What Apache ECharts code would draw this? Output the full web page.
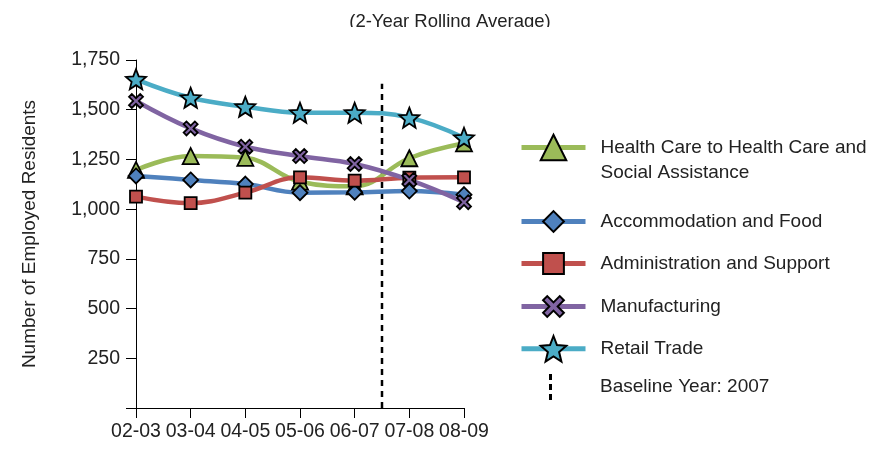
<!DOCTYPE html>
<html>
<head>
<meta charset="utf-8">
<script src="https://cdn.jsdelivr.net/npm/echarts@6/dist/echarts.min.js"></script>
<style>
html,body{margin:0;padding:0;background:#fff;}
#chart{width:888px;height:449px;}
</style>
</head>
<body>
<div id="chart"></div>
<script>
const categories = ['02-03','03-04','04-05','05-06','06-07','07-08','08-09'];
const healthCare = [1197, 1267, 1258, 1138, 1115, 1256, 1331];
const accommodation = [1167, 1147, 1126, 1083, 1085, 1091, 1073];
const administration = [1063, 1030, 1083, 1160, 1143, 1158, 1160];
const manufacturing = [1544, 1406, 1314, 1267, 1227, 1147, 1035];
const retail = [1653, 1560, 1515, 1485, 1485, 1460, 1359];
const baselineX = [4.5, 4.5];
const baselineY = [0, 1630];
const yTicks = [0, 250, 500, 750, 1000, 1250, 1500, 1750];

const FONT = 'Liberation Sans, Arial, sans-serif';
const FS = 19.5;
const LFS = 19;
const STAR = 'path://M50,0 L62.9,32.2 L97.6,34.5 L70.9,56.8 L79.4,90.5 L50,72 L20.6,90.5 L29.1,56.8 L2.4,34.5 L37.1,32.2 Z';
const CROSS = 'path://M0,20 L20,0 L50,30 L80,0 L100,20 L70,50 L100,80 L80,100 L50,70 L20,100 L0,80 L30,50 Z';
const DASHV = 'path://M0,0 L3,0 L3,6 L0,6 Z M0,10 L3,10 L3,16 L0,16 Z M0,20 L3,20 L3,26 L0,26 Z';

function lineSeries(name, data, color, symbol, size) {
  return {
    name: name, type: 'line', data: data, smooth: 0.4,
    symbol: symbol, symbolSize: size,
    lineStyle: { color: color, width: 4.5 },
    itemStyle: { color: color, borderColor: '#000', borderWidth: 1.8 },
    emphasis: { disabled: true }, animation: false
  };
}
const names = ['Health Care to Health Care and Social Assistance', 'Accommodation and Food', 'Administration and Support', 'Manufacturing', 'Retail Trade', 'Baseline Year: 2007'];

function legendFor(name, top, itemH, extra) {
  return Object.assign({
    data: [name], left: 519, top: top, padding: 0,
    itemWidth: 64, itemHeight: itemH, selectedMode: false,
    lineStyle: { width: 5 },
    itemStyle: { borderWidth: 2 },
    textStyle: { fontFamily: FONT, fontSize: LFS, color: '#222', padding: [0, 0, 0, 10], lineHeight: 25 }
  }, extra || {});
}

const option = {
  animation: false,
  title: {
    text: '(2-Year Rolling Average)', left: 445, textAlign: 'center', top: 7,
    textStyle: { fontFamily: FONT, fontWeight: 'normal', fontSize: 18.5, color: '#222' }
  },
  graphic: [{ type: 'rect', shape: { x: 300, y: 27, width: 300, height: 12 }, style: { fill: '#fff' }, z: 100 }],
  grid: { left: 136, right: 424, top: 60, bottom: 41, containLabel: false },
  xAxis: [{
    type: 'category', data: categories, boundaryGap: false,
    axisLine: { show: true, lineStyle: { color: '#000', width: 1 } },
    axisTick: { show: true, length: 10, interval: 0, lineStyle: { color: '#000' } },
    axisLabel: { interval: 0, margin: 14, fontFamily: FONT, fontSize: FS, color: '#222' },
    splitLine: { show: false }
  }, {
    type: 'value', min: 0, max: 6, show: false
  }],
  yAxis: {
    type: 'value', min: 0, max: 1750, interval: 250,
    name: 'Number of Employed Residents', nameLocation: 'middle', nameRotate: 90, nameGap: 97,
    nameTextStyle: { fontFamily: FONT, fontSize: 19, color: '#222' },
    axisLine: { show: true, lineStyle: { color: '#000', width: 1 } },
    axisTick: { show: true, length: 10, lineStyle: { color: '#000' } },
    axisLabel: {
      margin: 16, fontFamily: FONT, fontSize: FS, color: '#222',
      formatter: function (v) { return v === yTicks[0] ? '' : v.toLocaleString('en-US'); }
    },
    splitLine: { show: false }
  },
  legend: [
    legendFor(names[0], 110, 32, {
      formatter: function () { return '\nHealth Care to Health Care and\nSocial Assistance'; }
    }),
    legendFor(names[1], 209, 26),
    legendFor(names[2], 251, 26),
    legendFor(names[3], 294, 26),
    legendFor(names[4], 335, 32),
    {
      data: [{ name: names[5], icon: DASHV }], left: 549, top: 374, padding: 0,
      itemWidth: 3, itemHeight: 26, selectedMode: false,
      textStyle: { fontFamily: FONT, fontSize: LFS, color: '#222', padding: [0, 0, 0, 43] }
    }
  ],
  series: [
    lineSeries(names[0], healthCare, '#9BBB59', 'triangle', 16),
    lineSeries(names[1], accommodation, '#4F81BD', 'diamond', 15),
    lineSeries(names[2], administration, '#C0504D', 'rect', 12),
    lineSeries(names[3], manufacturing, '#8064A2', CROSS, 14),
    lineSeries(names[4], retail, '#4BACC6', STAR, 20),
    {
      name: names[5], type: 'line', xAxisIndex: 1,
      data: baselineX.map(function (x, i) { return [x, baselineY[i]]; }),
      symbol: 'none', lineStyle: { color: '#000', width: 2.5, type: [6, 5] },
      itemStyle: { color: '#000' }, emphasis: { disabled: true }, z: 1
    }
  ]
};
echarts.init(document.getElementById('chart')).setOption(option);
</script>
</body>
</html>
